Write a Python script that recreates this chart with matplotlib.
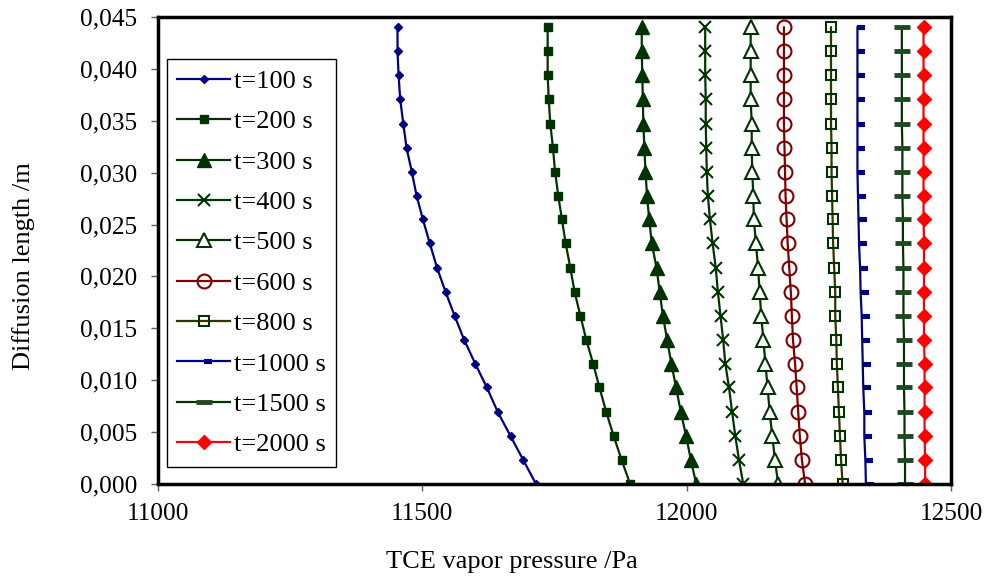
import numpy as np
import matplotlib
matplotlib.use("Agg")
import matplotlib.pyplot as plt
from matplotlib.path import Path

plt.rcParams['font.family'] = ['Liberation Serif', 'DejaVu Serif']

# diffusion length points (m), bottom to top
length = [0.0, 0.0023, 0.0046, 0.0069, 0.0093, 0.0116, 0.0139, 0.0162, 0.0185, 0.0208,
          0.0232, 0.0255, 0.0278, 0.0301, 0.0324, 0.0347, 0.0371, 0.0394, 0.0417, 0.044]

# TCE vapor pressure (Pa) for each time, same order as length
p_100 = [11715, 11691, 11667, 11643, 11622, 11600, 11579, 11561, 11544, 11528,
         11514, 11501, 11489, 11480, 11470, 11464, 11458, 11455, 11453, 11453]
p_200 = [11893, 11877, 11862, 11848, 11835, 11823, 11810, 11799, 11788, 11780,
         11771, 11764, 11757, 11751, 11747, 11742, 11739, 11737, 11737, 11737]
p_300 = [12018, 12008, 11999, 11989, 11980, 11971, 11963, 11955, 11949, 11943,
         11934, 11929, 11925, 11922, 11920, 11918, 11917, 11916, 11915, 11915]
p_400 = [12107, 12099, 12092, 12086, 12080, 12073, 12069, 12064, 12059, 12055,
         12049, 12044, 12040, 12038, 12037, 12036, 12036, 12035, 12035, 12035]
p_500 = [12173, 12167, 12162, 12157, 12153, 12149, 12145, 12141, 12138, 12135,
         12131, 12127, 12126, 12124, 12123, 12123, 12121, 12121, 12121, 12121]
p_600 = [12224, 12218, 12214, 12211, 12208, 12205, 12201, 12199, 12197, 12194,
         12191, 12189, 12187, 12186, 12185, 12184, 12184, 12184, 12184, 12184]
p_800 = [12295, 12292, 12290, 12288, 12286, 12284, 12283, 12281, 12281, 12279,
         12277, 12276, 12275, 12274, 12274, 12273, 12273, 12273, 12273, 12273]
p_1000 = [12339, 12338, 12336, 12336, 12334, 12333, 12332, 12331, 12329, 12328,
          12326, 12325, 12324, 12323, 12323, 12323, 12323, 12323, 12323, 12323]
p_1500 = [12413, 12413, 12412, 12412, 12411, 12411, 12411, 12410, 12410, 12410,
          12409, 12409, 12408, 12408, 12408, 12407, 12407, 12407, 12407, 12407]
p_2000 = [12451, 12451, 12450, 12450, 12450, 12450, 12449, 12449, 12449, 12449,
          12449, 12448, 12448, 12448, 12448, 12448, 12448, 12448, 12448, 12448]

labels = ['t=100 s', 't=200 s', 't=300 s', 't=400 s', 't=500 s',
          't=600 s', 't=800 s', 't=1000 s', 't=1500 s', 't=2000 s']
x_ticks = [11000, 11500, 12000, 12500]
y_ticks = [0.0, 0.005, 0.010, 0.015, 0.020, 0.025, 0.030, 0.035, 0.040, 0.045]

navy = '#000080'
dgreen = '#003300'

# short dash drawn to the right of the point (like the excel marker)
right_dash = Path([(0, -0.22), (1, -0.22), (1, 0.22), (0, 0.22), (0, -0.22)],
                  [Path.MOVETO, Path.LINETO, Path.LINETO, Path.LINETO, Path.CLOSEPOLY])

styles = [
    dict(color=navy, marker='D', ms=4.5, mfc=navy, mec=navy),
    dict(color=dgreen, marker='s', ms=6, mfc=dgreen, mec=dgreen),
    dict(color=dgreen, marker='^', ms=10, mfc=dgreen, mec=dgreen),
    dict(color=dgreen, marker='x', ms=9, mec=dgreen, mew=1.5),
    dict(color=dgreen, marker='^', ms=10, mfc='white', mec=dgreen, mew=1.5),
    dict(color='#800000', marker='o', ms=10, mfc='none', mec='#800000', mew=1.5),
    dict(color='#333300', marker='s', ms=7, mfc='none', mec=dgreen, mew=1.5),
    dict(color=navy, marker=right_dash, ms=10, mfc=navy, mec=navy, mew=0.8),
    dict(color=dgreen, marker='_', ms=11, mec='#1f4a1f', mew=3.5),
    dict(color='red', marker='D', ms=7.5, mfc='red', mec='red'),
]
series = [p_100, p_200, p_300, p_400, p_500, p_600, p_800, p_1000, p_1500, p_2000]

fig = plt.figure(figsize=(9.89, 5.78), dpi=100)
ax = fig.add_axes([0.1598, 0.1626, 0.8018, 0.808])

for p, lab, st in zip(series, labels, styles):
    ax.plot(p, length, lw=1.6, label=lab, **st)

ax.set_xlim(11000, 12500)
ax.set_ylim(0, 0.045)
ax.set_xticks(x_ticks)
ax.set_xticklabels([str(v) for v in x_ticks])
ax.set_yticks(y_ticks)
ax.set_yticklabels([f'{v:.3f}'.replace('.', ',') for v in y_ticks])
ax.tick_params(axis='both', labelsize=18.3, length=5, width=1, color='#606060')
ax.tick_params(axis='y', pad=10)
ax.tick_params(axis='x', pad=9)

for s in ax.spines.values():
    s.set_linewidth(2.5)
    s.set_color('black')

leg = ax.legend(loc='upper left', bbox_to_anchor=(0.011, 0.91), fontsize=19,
                frameon=True, fancybox=False, edgecolor='black', framealpha=1,
                handlelength=2.0, handletextpad=0.15, labelspacing=0.64,
                borderpad=0.4, borderaxespad=0)
leg.get_frame().set_linewidth(1.0)

fig.text(512 / 989, 1 - 562 / 578, 'TCE vapor pressure /Pa', ha='center', va='center', fontsize=19)
fig.text(24 / 989, 1 - 266 / 578, 'Diffusion length /m', ha='center', va='center',
         rotation=90, fontsize=19)

fig.savefig('out.png', dpi=100)
